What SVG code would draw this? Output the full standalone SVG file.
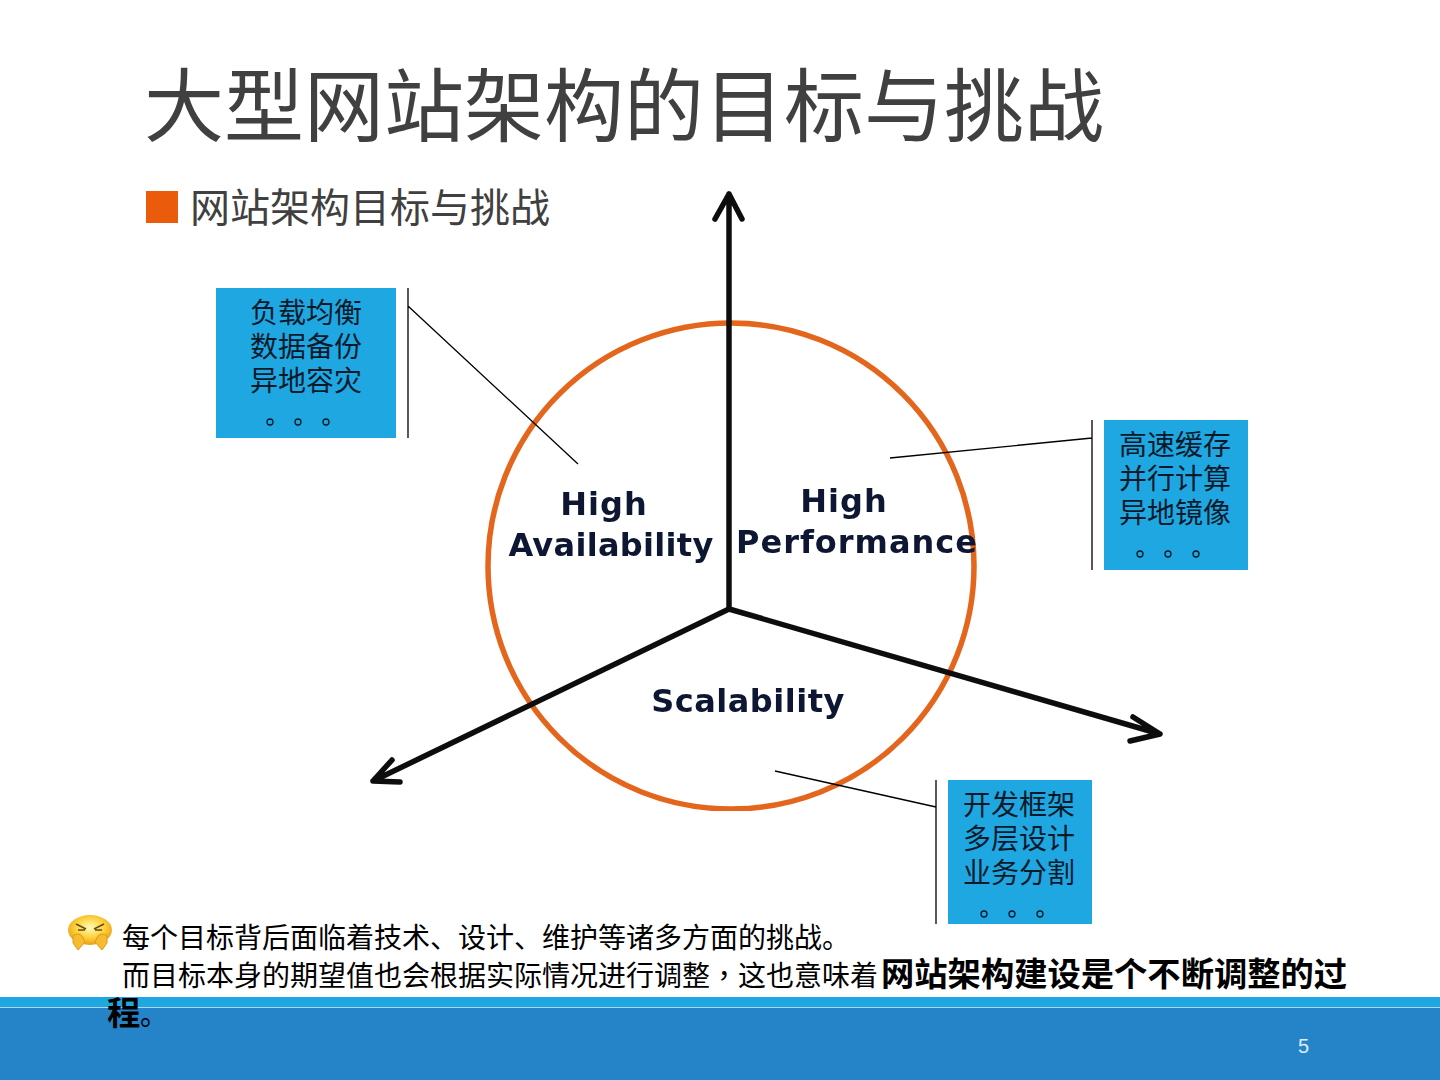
<svg xmlns="http://www.w3.org/2000/svg" width="1440" height="1080" viewBox="0 0 1440 1080">
<defs>
<style>
text{font-family:"Noto Sans CJK SC","Liberation Sans",sans-serif;}
.title{font-size:80px;fill:#404040;font-weight:400;}
.sub{font-size:40px;fill:#404040;font-weight:400;}
.box{fill:#1fa7e1;}
.bt{font-size:28px;fill:#0a1a2a;text-anchor:middle;font-weight:400;}
.dot{fill:none;stroke:#0a1a2a;stroke-width:1.3;}
.lead{stroke:#000;stroke-width:1.3;fill:none;}
.axis{stroke:#0c0c0c;stroke-width:5.5;fill:none;stroke-linecap:round;stroke-linejoin:round;}
.lbl{font-family:"DejaVu Sans",sans-serif;font-weight:700;font-size:32px;fill:#101830;text-anchor:middle;}
.body{font-size:28px;fill:#000;font-weight:400;}
.bold{font-size:33.3px;fill:#000;font-weight:700;}
</style>
<clipPath id="cc"><rect x="470" y="300" width="520" height="511"/></clipPath>
<filter id="soft" x="-5%" y="-5%" width="110%" height="110%"><feGaussianBlur stdDeviation="0.6"/></filter>
<radialGradient id="face" cx="50%" cy="42%" r="60%"><stop offset="0" stop-color="#fffbb8"/><stop offset="0.55" stop-color="#fdd23c"/><stop offset="1" stop-color="#e89a10"/></radialGradient>
</defs>
<rect width="1440" height="1080" fill="#fff"/>
<g id="footer">
<rect x="0" y="997" width="1440" height="83" fill="#2583c8"/>
<rect x="0" y="997" width="1440" height="10" fill="#1fa7e1"/>
<rect x="0" y="1007" width="1440" height="1" fill="#a9d8f0"/>
<text x="1298" y="1053" style="font-family:'Liberation Sans',sans-serif;font-size:20px;fill:#dcecf8">5</text>
</g>
<text class="title" x="144" y="135">大型网站架构的目标与挑战</text>
<rect x="146" y="191" width="32" height="32" fill="#ea5b0c"/>
<text class="sub" x="190" y="222">网站架构目标与挑战</text>
<g id="diagram">
<g filter="url(#soft)">
<circle cx="731" cy="566" r="243" fill="none" stroke="#e4661e" stroke-width="5.5" clip-path="url(#cc)"/>
<path class="axis" d="M729 608V194M715 219L729 194L742 219"/>
<path class="axis" d="M729 609L1160 734M1133 717L1160 734L1130 741"/>
<path class="axis" d="M729 609L373 781M400 782L373 781L392 760"/>
<text class="lbl" x="604" y="515" letter-spacing="1">High</text>
<text class="lbl" x="611" y="556" letter-spacing="0.3">Availability</text>
<text class="lbl" x="844" y="512" letter-spacing="1">High</text>
<text class="lbl" x="857" y="553" letter-spacing="1">Performance</text>
<text class="lbl" x="748" y="712" letter-spacing="0.5">Scalability</text>
</g>
<g id="connectors">
<path class="lead" d="M408 288V438M408 306L578 464"/>
<path class="lead" d="M1092 420V570M1092 438L890 458"/>
<path class="lead" d="M936 780V924M936 807L775 771"/>
</g>
</g>
<g id="node-availability">
<rect class="box" x="216" y="288" width="180" height="150"/>
<text class="bt" x="306" y="323">负载均衡</text>
<text class="bt" x="306" y="357">数据备份</text>
<text class="bt" x="306" y="391">异地容灾</text>
<circle class="dot" cx="270" cy="422" r="3"/><circle class="dot" cx="298" cy="422" r="3"/><circle class="dot" cx="326" cy="422" r="3"/>
</g>
<g id="node-performance">
<rect class="box" x="1104" y="420" width="144" height="150"/>
<text class="bt" x="1175" y="455">高速缓存</text>
<text class="bt" x="1175" y="489">并行计算</text>
<text class="bt" x="1175" y="523">异地镜像</text>
<circle class="dot" cx="1140" cy="554" r="3"/><circle class="dot" cx="1168" cy="554" r="3"/><circle class="dot" cx="1196" cy="554" r="3"/>
</g>
<g id="node-scalability">
<rect class="box" x="948" y="780" width="144" height="144"/>
<text class="bt" x="1019" y="815">开发框架</text>
<text class="bt" x="1019" y="849">多层设计</text>
<text class="bt" x="1019" y="883">业务分割</text>
<circle class="dot" cx="984" cy="914" r="3"/><circle class="dot" cx="1012" cy="914" r="3"/><circle class="dot" cx="1040" cy="914" r="3"/>
</g>
<g id="emoji">
<ellipse cx="90" cy="930" rx="22" ry="15" fill="url(#face)"/>
<path d="M73 936q5-4 9 0l3 6-7 8-5-7zM107 936q-5-4-9 0l-3 6 7 8 5-7z" fill="#f6bc30" stroke="#e09a18" stroke-width="1"/>
<path d="M76 924l10 5M104 924l-10 5M78 930h7M95 930h7" stroke="#6a4a14" stroke-width="1.6" fill="none"/>
</g>
<text class="body" x="122" y="948">每个目标背后面临着技术、设计、维护等诸多方面的挑战。</text>
<text class="body" x="122" y="986">而目标本身的期望值也会根据实际情况进行调整<tspan style="font-family:'Noto Sans CJK TC',sans-serif">&#xFF0C;</tspan>这也意味着</text>
<text class="bold" x="881" y="986">网站架构建设是个不断调整的过</text>
<text class="bold" x="107" y="1025">程</text>
<text class="body" x="140" y="1025">。</text>
</svg>
